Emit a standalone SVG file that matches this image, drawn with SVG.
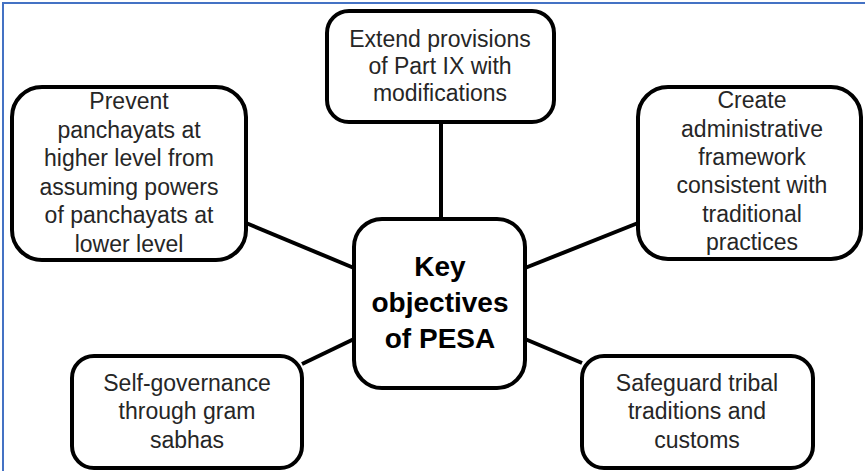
<svg xmlns="http://www.w3.org/2000/svg" width="865" height="471" viewBox="0 0 865 471">
<style>
.box{fill:#fff;stroke:#000;stroke-width:4}
.t{font-family:"Liberation Sans",Arial,sans-serif;font-size:23px;fill:#262626;text-anchor:middle}
.k{font-family:"Liberation Sans",Arial,sans-serif;font-size:28px;font-weight:bold;fill:#000;text-anchor:middle}
.c{stroke:#000;stroke-width:4;fill:none}
</style>
<rect width="865" height="471" fill="#fff"/>
<path d="M3,471 V3 H865" fill="none" stroke="#4472C4" stroke-width="2"/>
<g id="connectors">
<line class="c" x1="441" y1="122" x2="441" y2="220"/>
<line class="c" x1="246" y1="223" x2="354" y2="268"/>
<line class="c" x1="525" y1="268" x2="638" y2="223"/>
<line class="c" x1="302" y1="364" x2="354" y2="339"/>
<line class="c" x1="525" y1="339" x2="582" y2="363"/>
</g>
<g id="center">
<rect class="box" x="354" y="219" width="171" height="169" rx="28"/>
<text class="k" x="440" y="276">Key</text>
<text class="k" x="440" y="312">objectives</text>
<text class="k" x="440" y="348">of PESA</text>
</g>
<g id="top">
<rect class="box" x="327" y="11" width="227" height="111" rx="22"/>
<text class="t" x="440" y="47">Extend provisions</text>
<text class="t" x="440" y="74">of Part IX with</text>
<text class="t" x="440" y="101">modifications</text>
</g>
<g id="left">
<rect class="box" x="12" y="87" width="234" height="173" rx="30"/>
<text class="t" x="129" y="109">Prevent</text>
<text class="t" x="129" y="138">panchayats at</text>
<text class="t" x="129" y="166">higher level from</text>
<text class="t" x="129" y="195">assuming powers</text>
<text class="t" x="129" y="223">of panchayats at</text>
<text class="t" x="129" y="252">lower level</text>
</g>
<g id="right">
<rect class="box" x="638" y="87" width="223" height="172" rx="30"/>
<text class="t" x="752" y="108">Create</text>
<text class="t" x="752" y="137">administrative</text>
<text class="t" x="752" y="165">framework</text>
<text class="t" x="752" y="193">consistent with</text>
<text class="t" x="752" y="222">traditional</text>
<text class="t" x="752" y="250">practices</text>
</g>
<g id="bottom-left">
<rect class="box" x="72" y="356" width="230" height="112" rx="22"/>
<text class="t" x="187" y="391">Self-governance</text>
<text class="t" x="187" y="419">through gram</text>
<text class="t" x="187" y="448">sabhas</text>
</g>
<g id="bottom-right">
<rect class="box" x="582" y="356" width="231" height="112" rx="22"/>
<text class="t" x="697" y="391">Safeguard tribal</text>
<text class="t" x="697" y="419">traditions and</text>
<text class="t" x="697" y="448">customs</text>
</g>
</svg>
